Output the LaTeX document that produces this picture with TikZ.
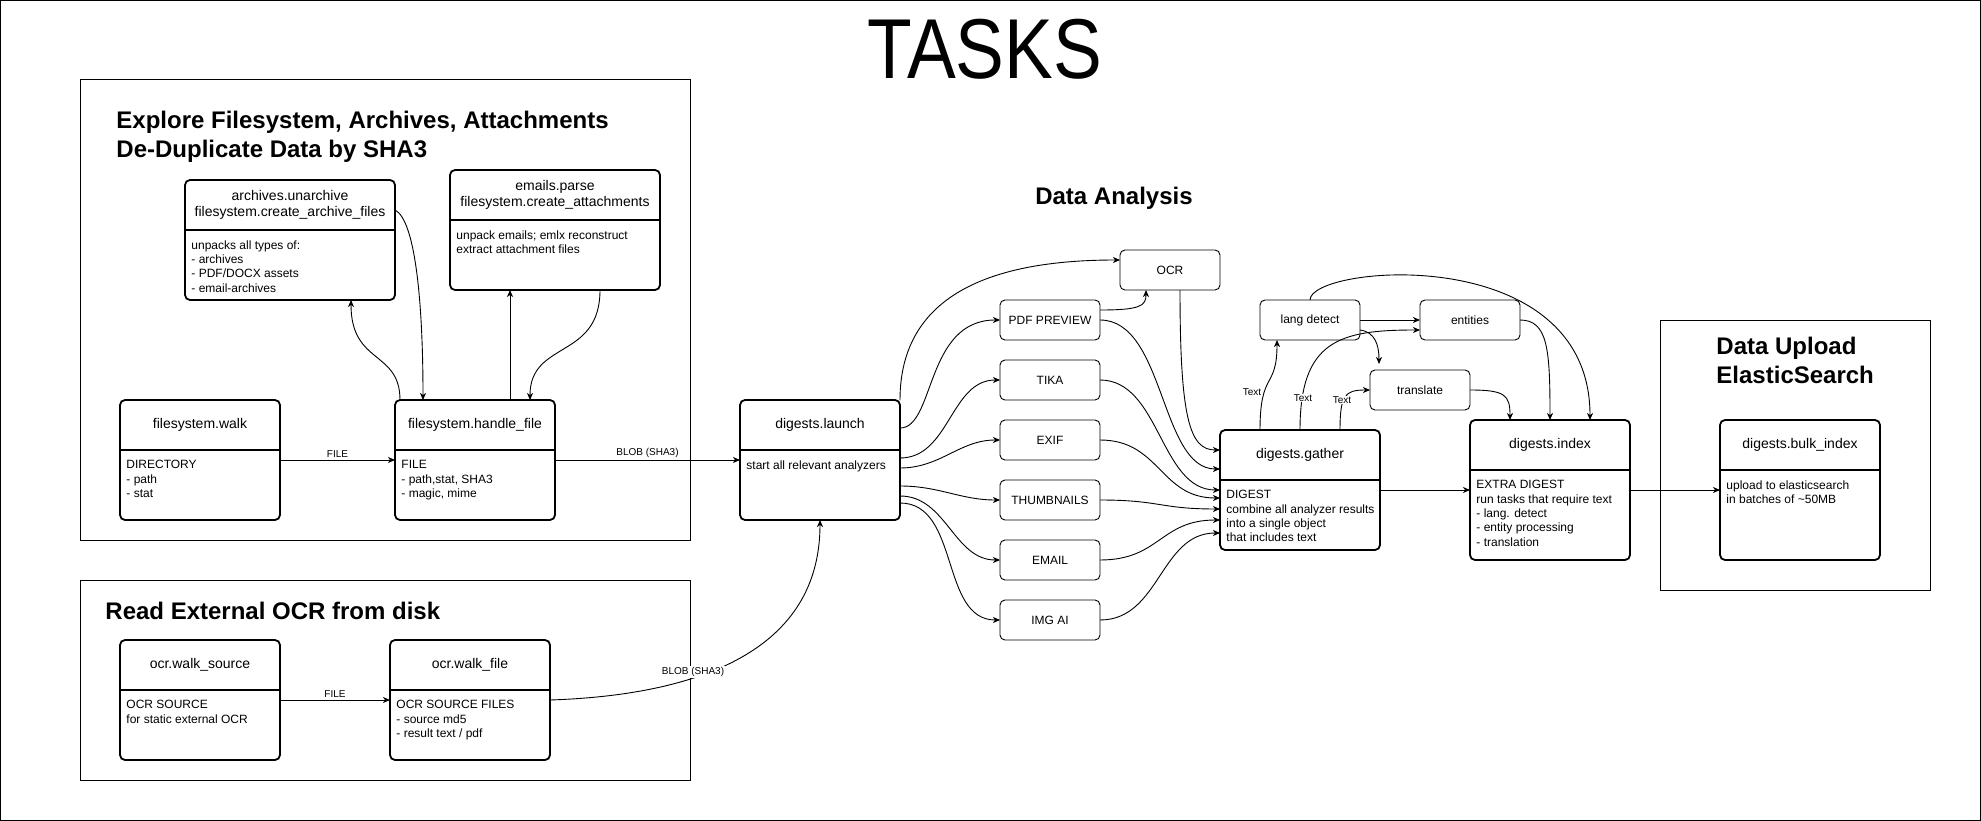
\documentclass[tikz,border=0pt]{standalone}
\usepackage{fontspec}
\setmainfont{Liberation Sans}
\usetikzlibrary{arrows.meta}

\begin{document}
\begin{tikzpicture}[x=1pt, y=-1pt, >={Stealth[length=7pt, width=6pt, inset=2pt]}, line width=0.9pt, node distance=60pt]

%====Definizione stili=======================================================

	\tikzstyle{task}=[draw, rounded corners=5pt, line width=1.8pt, anchor=north west, inner sep=0pt, outer sep=0pt]
	\tikzstyle{analyzer}=[draw, rounded corners=5pt, line width=0.9pt, minimum width=100pt, minimum height=40pt, inner sep=0pt, outer sep=0pt, font=\fontsize{12}{14}\selectfont]
	\tikzstyle{group}=[draw, line width=1pt]
	\tikzstyle{header}=[inner sep=0pt, align=center, font=\fontsize{14}{16}\selectfont]
	\tikzstyle{body}=[inner sep=0pt, anchor=north west, align=left, font=\fontsize{12}{14.3}\selectfont]
	\tikzstyle{title}=[inner sep=0pt, align=left, font=\bfseries\fontsize{24}{29}\selectfont]
	\tikzstyle{lbl}=[fill=white, inner sep=1pt, font=\fontsize{10}{12}\selectfont]

%====Cornice, gruppi e titoli=================================================

	\useasboundingbox (0,0) rectangle (1981,821);
	\draw[group] (0.5,0.5) rectangle (1980.5,820.5);
	\node[inner sep=0pt, font=\fontsize{85}{90}\selectfont] (tasks) at (985,49) {\scalebox{0.86}[1]{TASKS}};

	\draw[group] (80,80) rectangle (690,540);
	\draw[group] (80,580) rectangle (690,780);
	\draw[group] (1660,320) rectangle (1930,590);

	\node[title, anchor=north west] (exploretitle)  at (116,111)  {Explore Filesystem, Archives, Attachments\\De-Duplicate Data by SHA3};
	\node[title, anchor=north west] (ocrtitle)      at (105,602)  {Read External OCR from disk};
	\node[title, anchor=base]       (analysistitle) at (1114,205) {Data Analysis};
	\node[title, anchor=north west] (uploadtitle)   at (1716,337) {Data Upload\\ElasticSearch};

%====Task con intestazione====================================================

	\node[task, minimum width=210pt, minimum height=120pt] (archives) at (185,180) {};
	\draw[line width=1.8pt] (archives.west |- 0,230) -- (archives.east |- 0,230);
	\node[header] (archives-h) at (archives.north |- 0,205) {archives.unarchive\\filesystem.create\_archive\_files};
	\node[body, xshift=6pt] (archives-b) at (archives.west |- 0,240) {unpacks all types of:\\- archives\\- PDF/DOCX assets\\- email-archives};

	\node[task, minimum width=210pt, minimum height=120pt] (emails) at (450,170) {};
	\draw[line width=1.8pt] (emails.west |- 0,220) -- (emails.east |- 0,220);
	\node[header] (emails-h) at (emails.north |- 0,195) {emails.parse\\filesystem.create\_attachments};
	\node[body, xshift=6pt] (emails-b) at (emails.west |- 0,230) {unpack emails; emlx reconstruct\\extract attachment files};

	\node[task, minimum width=160pt, minimum height=120pt] (walk) at (120,400) {};
	\draw[line width=1.8pt] (walk.west |- 0,450) -- (walk.east |- 0,450);
	\node[header] (walk-h) at (walk.north |- 0,425) {filesystem.walk};
	\node[body, xshift=6pt] (walk-b) at (walk.west |- 0,460) {DIRECTORY\\- path\\- stat};

	\node[task, minimum width=160pt, minimum height=120pt] (handle) at (395,400) {};
	\draw[line width=1.8pt] (handle.west |- 0,450) -- (handle.east |- 0,450);
	\node[header] (handle-h) at (handle.north |- 0,425) {filesystem.handle\_file};
	\node[body, xshift=6pt] (handle-b) at (handle.west |- 0,460) {FILE\\- path,stat, SHA3\\- magic, mime};

	\node[task, minimum width=160pt, minimum height=120pt] (launch) at (740,400) {};
	\draw[line width=1.8pt] (launch.west |- 0,450) -- (launch.east |- 0,450);
	\node[header] (launch-h) at (launch.north |- 0,425) {digests.launch};
	\node[body, xshift=6pt] (launch-b) at (launch.west |- 0,460) {start all relevant analyzers};

	\node[task, minimum width=160pt, minimum height=120pt] (osrc) at (120,640) {};
	\draw[line width=1.8pt] (osrc.west |- 0,690) -- (osrc.east |- 0,690);
	\node[header] (osrc-h) at (osrc.north |- 0,665) {ocr.walk\_source};
	\node[body, xshift=6pt] (osrc-b) at (osrc.west |- 0,700) {OCR SOURCE\\for static external OCR};

	\node[task, minimum width=160pt, minimum height=120pt] (ofile) at (390,640) {};
	\draw[line width=1.8pt] (ofile.west |- 0,690) -- (ofile.east |- 0,690);
	\node[header] (ofile-h) at (ofile.north |- 0,665) {ocr.walk\_file};
	\node[body, xshift=6pt] (ofile-b) at (ofile.west |- 0,700) {OCR SOURCE FILES\\- source md5\\- result text / pdf};

	\node[task, minimum width=160pt, minimum height=120pt] (gather) at (1220,430) {};
	\draw[line width=1.8pt] (gather.west |- 0,480) -- (gather.east |- 0,480);
	\node[header] (gather-h) at (gather.north |- 0,455) {digests.gather};
	\node[body, xshift=6pt] (gather-b) at (gather.west |- 0,490) {DIGEST\\combine all analyzer results\\into a single object\\that includes text};

	\node[task, minimum width=160pt, minimum height=140pt] (index) at (1470,420) {};
	\draw[line width=1.8pt] (index.west |- 0,470) -- (index.east |- 0,470);
	\node[header] (index-h) at (index.north |- 0,445) {digests.index};
	\node[body, xshift=6pt] (index-b) at (index.west |- 0,480) {EXTRA DIGEST\\run tasks that require text\\- lang. detect\\- entity processing\\- translation};

	\node[task, minimum width=160pt, minimum height=140pt] (bulk) at (1720,420) {};
	\draw[line width=1.8pt] (bulk.west |- 0,470) -- (bulk.east |- 0,470);
	\node[header] (bulk-h) at (bulk.north |- 0,445) {digests.bulk\_index};
	\node[body, xshift=6pt] (bulk-b) at (bulk.west |- 0,480) {upload to elasticsearch\\in batches of \textasciitilde 50MB};

%====Analizzatori=============================================================

	\node[analyzer]                 (pdf)       at (1050,320) {PDF PREVIEW};
	\node[analyzer, below of=pdf]   (tika)                    {TIKA};
	\node[analyzer, below of=tika]  (exif)                    {EXIF};
	\node[analyzer, below of=exif]  (thumbs)                  {THUMBNAILS};
	\node[analyzer, below of=thumbs](email)                   {EMAIL};
	\node[analyzer, below of=email] (imgai)                   {IMG AI};
	\node[analyzer]                 (ocr)       at (1170,270) {OCR};
	\node[analyzer]                 (lang)      at (1310,320) {lang detect};
	\node[analyzer]                 (entities)  at (1470,320) {entities};
	\node[analyzer]                 (translate) at (1420,390) {translate};
	\coordinate (ltend) at (1379,364);

%====Collegamenti=============================================================

	\draw[->] (handle.north -| 400,0) .. controls (400,350) and (351,365) .. (archives.south -| 351,0);
	\draw[->] (archives.east |- 0,210) .. controls (415,220) and (423,300) .. (handle.north -| 423,0);
	\draw[->] (handle.north -| 510,0) -- (emails.south -| 510,0);
	\draw[->] (emails.south -| 600,0) .. controls (600,360) and (530,340) .. (handle.north -| 530,0);
	\draw[->] (walk.east |- 0,460) -- (handle.west |- 0,460) node[lbl, midway, above=1pt] (file1) {FILE};
	\draw[->] (handle.east |- 0,460) -- (launch.west |- 0,460) node[lbl, midway, above=1pt] (blob1) {BLOB (SHA3)};
	\draw[->] (osrc.east |- 0,700) -- (ofile.west |- 0,700) node[lbl, midway, above=1pt] (file2) {FILE};
	\draw[->] (ofile.east |- 0,700) .. controls (700,695) and (820,650) .. (launch.south);
	\node[lbl] (blob2) at (693,672) {BLOB (SHA3)};

	\draw[->] (launch.north east) .. controls (900,290) and (1000,260) .. (ocr.west |- 0,260);
	\draw[->] (launch.east |- 0,428) .. controls (935,428) and (925,320) .. (pdf.west);
	\draw[->] (launch.east |- 0,458) to[out=0, in=180] (tika.west);
	\draw[->] (launch.east |- 0,468) to[out=0, in=180] (exif.west);
	\draw[->] (launch.east |- 0,486) to[out=0, in=180] (thumbs.west);
	\draw[->] (launch.east |- 0,496) to[out=0, in=180] (email.west);
	\draw[->] (launch.east |- 0,503) to[out=0, in=180] (imgai.west);

	\draw[->] (pdf.east |- 0,310) .. controls (1140,310) and (1146,306) .. ([xshift=-24pt]ocr.south);
	\draw[->] ([xshift=10pt]ocr.south) .. controls (1180,420) and (1190,450) .. (gather.west |- 0,450);
	\draw[->] (pdf.east) .. controls (1165,320) and (1160,469) .. (gather.west |- 0,469);
	\draw[->] (tika.east) .. controls (1160,380) and (1160,490) .. (gather.west |- 0,490);
	\draw[->] (exif.east) .. controls (1160,440) and (1160,498) .. (gather.west |- 0,498);
	\draw[->] (thumbs.east) .. controls (1160,500) and (1160,509) .. (gather.west |- 0,509);
	\draw[->] (email.east) .. controls (1160,560) and (1160,520) .. (gather.west |- 0,520);
	\draw[->] (imgai.east) .. controls (1160,620) and (1160,533) .. (gather.west |- 0,533);

	\draw[->] (gather.north -| 1260,0) .. controls (1260,370) and (1277,390) .. (lang.south -| 1277,0);
	\draw[->] (gather.north -| 1300,0) .. controls (1300,340) and (1340,330) .. (entities.west |- 0,330);
	\draw[->] (gather.north -| 1340,0) .. controls (1340,395) and (1345,390) .. (translate.west);
	\node[lbl] (text1) at (1252,392) {Text};
	\node[lbl] (text2) at (1303,398) {Text};
	\node[lbl] (text3) at (1342,400) {Text};

	\draw[->] (lang.east) -- (entities.west);
	\draw[->] (lang.east |- 0,330) .. controls (1375,332) and (1379,345) .. (ltend);
	\draw[->] (lang.north) .. controls (1310,265) and (1590,240) .. (index.north -| 1590,0);
	\draw[->] (entities.east) .. controls (1548,320) and (1550,350) .. (index.north -| 1550,0);
	\draw[->] (translate.east) .. controls (1505,390) and (1510,395) .. (index.north -| 1510,0);

	\draw[->] (gather.east |- 0,490) -- (index.west |- 0,490);
	\draw[->] (index.east |- 0,490) -- (bulk.west |- 0,490);
\end{tikzpicture}
\end{document}
